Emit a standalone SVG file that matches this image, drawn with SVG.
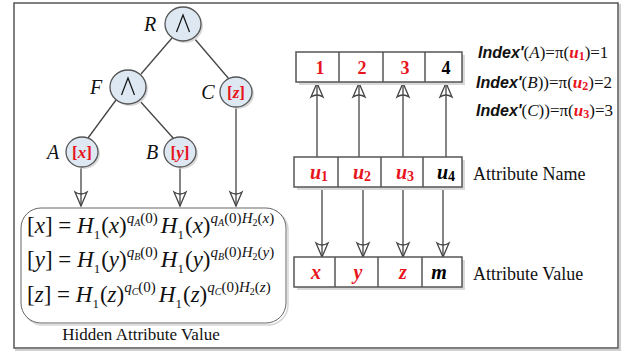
<svg xmlns="http://www.w3.org/2000/svg" width="631" height="352" viewBox="0 0 631 352">
<style>
.s{font-family:"Liberation Serif","Times New Roman",serif;}
.i{font-style:italic;}
.b{font-weight:bold;}
.red{fill:#e8141c;}
.node{fill:#dde8f2;stroke:#555;stroke-width:1.3;}
.shadow{fill:#d9d9d9;}
.cell{fill:#fff;stroke:#555;stroke-width:1.5;}
.edge{stroke:#444;stroke-width:1.3;fill:none;}
.lbl{font-family:"Liberation Serif",serif;font-style:italic;font-size:20px;fill:#111;}
.eq{font-family:"Liberation Serif",serif;font-size:23px;fill:#111;}
.sup{font-size:15px;}
.sub{font-size:10px;}
.idx{font-family:"Liberation Sans",Arial,sans-serif;font-weight:bold;font-style:italic;font-size:16px;}
.tx{font-family:"Liberation Serif",serif;fill:#111;}
</style>
<defs>
<marker id="arr" markerUnits="userSpaceOnUse" markerWidth="20" markerHeight="16" refX="14" refY="6" orient="auto" overflow="visible">
<path d="M14,6 L0,0 Q4,6 0,12 Z" fill="none" stroke="#444" stroke-width="1.3" stroke-linejoin="miter"/>
</marker>
</defs>
<!-- outer frame -->
<rect x="16" y="5" width="604" height="345" fill="none" stroke="#d0d0d0" stroke-width="2"/>
<rect x="14" y="3" width="604" height="345" fill="#fff" stroke="#555" stroke-width="1.5"/>

<g id="connectors">
<line class="edge" x1="172" y1="38" x2="141" y2="74"/>
<line class="edge" x1="194" y1="38" x2="229" y2="79"/>
<line class="edge" x1="116" y1="100" x2="88" y2="138"/>
<line class="edge" x1="139" y1="100" x2="174" y2="139"/>
<line class="edge" x1="81" y1="167" x2="81" y2="206" marker-end="url(#arr)"/>
<line class="edge" x1="180" y1="167" x2="180" y2="206" marker-end="url(#arr)"/>
<line class="edge" x1="236" y1="107" x2="236" y2="206" marker-end="url(#arr)"/>
<line class="edge" x1="317" y1="157" x2="317" y2="83" marker-end="url(#arr)"/>
<line class="edge" x1="359" y1="157" x2="359" y2="83" marker-end="url(#arr)"/>
<line class="edge" x1="403" y1="157" x2="403" y2="83" marker-end="url(#arr)"/>
<line class="edge" x1="446" y1="157" x2="446" y2="83" marker-end="url(#arr)"/>
<line class="edge" x1="322" y1="187" x2="322" y2="257" marker-end="url(#arr)"/>
<line class="edge" x1="363" y1="187" x2="363" y2="257" marker-end="url(#arr)"/>
<line class="edge" x1="403" y1="187" x2="403" y2="257" marker-end="url(#arr)"/>
<line class="edge" x1="443" y1="187" x2="443" y2="257" marker-end="url(#arr)"/>
</g>

<g id="node-R">
<ellipse class="shadow" cx="185" cy="26" rx="18" ry="17"/>
<ellipse class="node" cx="183" cy="24" rx="18" ry="17"/>
<path d="M176.5,32 L183,15 L189.5,32" fill="none" stroke="#111" stroke-width="1.2"/>
<text class="lbl" x="150" y="31" text-anchor="middle">R</text>
</g>
<g id="node-F">
<ellipse class="shadow" cx="130" cy="89" rx="18" ry="17"/>
<ellipse class="node" cx="128" cy="87" rx="18" ry="17"/>
<path d="M121.5,95 L128,78 L134.5,95" fill="none" stroke="#111" stroke-width="1.2"/>
<text class="lbl" x="96" y="94" text-anchor="middle">F</text>
</g>
<g id="node-C">
<ellipse class="shadow" cx="238" cy="94" rx="16" ry="15"/>
<ellipse class="node" cx="236" cy="92" rx="16" ry="15"/>
<text class="s b red" font-size="17" x="236" y="98" text-anchor="middle">[<tspan class="i">z</tspan>]</text>
<text class="lbl" x="208" y="99" text-anchor="middle">C</text>
</g>
<g id="node-A">
<ellipse class="shadow" cx="84" cy="154" rx="16" ry="15"/>
<ellipse class="node" cx="82" cy="152" rx="16" ry="15"/>
<text class="s b red" font-size="17" x="82" y="158" text-anchor="middle">[<tspan class="i">x</tspan>]</text>
<text class="lbl" x="53" y="159" text-anchor="middle">A</text>
</g>
<g id="node-B">
<ellipse class="shadow" cx="182" cy="154" rx="16" ry="15"/>
<ellipse class="node" cx="180" cy="152" rx="16" ry="15"/>
<text class="s b red" font-size="17" x="180" y="158" text-anchor="middle">[<tspan class="i">y</tspan>]</text>
<text class="lbl" x="152" y="159" text-anchor="middle">B</text>
</g>

<g id="hidden-values">
<rect x="23" y="210" width="265" height="115" rx="20" fill="none" stroke="#d6d6d6" stroke-width="1.5"/>
<rect x="21" y="208" width="265" height="115" rx="20" fill="#fff" stroke="#666" stroke-width="1"/>
<text class="eq" x="27" y="233">[<tspan class="i">x</tspan>] = <tspan class="i">H</tspan><tspan font-size="13" dy="6">1</tspan><tspan dy="-6" dx="1">(</tspan><tspan class="i">x</tspan>)<tspan class="sup i" dy="-10">q</tspan><tspan class="sub i" dy="3">A</tspan><tspan class="sup" dy="-3">(0)</tspan><tspan class="i" dy="10" dx="3">H</tspan><tspan font-size="13" dy="6">1</tspan><tspan dy="-6" dx="1">(</tspan><tspan class="i">x</tspan>)<tspan class="sup i" dy="-10">q</tspan><tspan class="sub i" dy="3">A</tspan><tspan class="sup" dy="-3">(0)</tspan><tspan class="sup i">H</tspan><tspan class="sub" dy="3">2</tspan><tspan class="sup" dy="-3">(</tspan><tspan class="sup i">x</tspan><tspan class="sup">)</tspan></text>
<text class="eq" x="27" y="267">[<tspan class="i">y</tspan>] = <tspan class="i">H</tspan><tspan font-size="13" dy="6">1</tspan><tspan dy="-6" dx="1">(</tspan><tspan class="i">y</tspan>)<tspan class="sup i" dy="-10">q</tspan><tspan class="sub i" dy="3">B</tspan><tspan class="sup" dy="-3">(0)</tspan><tspan class="i" dy="10" dx="3">H</tspan><tspan font-size="13" dy="6">1</tspan><tspan dy="-6" dx="1">(</tspan><tspan class="i">y</tspan>)<tspan class="sup i" dy="-10">q</tspan><tspan class="sub i" dy="3">B</tspan><tspan class="sup" dy="-3">(0)</tspan><tspan class="sup i">H</tspan><tspan class="sub" dy="3">2</tspan><tspan class="sup" dy="-3">(</tspan><tspan class="sup i">y</tspan><tspan class="sup">)</tspan></text>
<text class="eq" x="27" y="302">[<tspan class="i">z</tspan>] = <tspan class="i">H</tspan><tspan font-size="13" dy="6">1</tspan><tspan dy="-6" dx="1">(</tspan><tspan class="i">z</tspan>)<tspan class="sup i" dy="-10">q</tspan><tspan class="sub i" dy="3">C</tspan><tspan class="sup" dy="-3">(0)</tspan><tspan class="i" dy="10" dx="3">H</tspan><tspan font-size="13" dy="6">1</tspan><tspan dy="-6" dx="1">(</tspan><tspan class="i">z</tspan>)<tspan class="sup i" dy="-10">q</tspan><tspan class="sub i" dy="3">C</tspan><tspan class="sup" dy="-3">(0)</tspan><tspan class="sup i">H</tspan><tspan class="sub" dy="3">2</tspan><tspan class="sup" dy="-3">(</tspan><tspan class="sup i">z</tspan><tspan class="sup">)</tspan></text>
<text class="tx" x="141" y="340" text-anchor="middle" font-size="17">Hidden Attribute Value</text>
</g>

<g id="index-row">
<rect class="shadow" x="299" y="55" width="166" height="30"/>
<rect class="cell" x="296" y="52" width="166" height="30"/>
<line class="cell" x1="339" y1="52" x2="339" y2="82"/>
<line class="cell" x1="383" y1="52" x2="383" y2="82"/>
<line class="cell" x1="425" y1="52" x2="425" y2="82"/>
<g class="s b" font-size="18" text-anchor="middle">
<text class="red" x="320" y="74">1</text>
<text class="red" x="362" y="74">2</text>
<text class="red" x="405" y="74">3</text>
<text x="446" y="74">4</text>
</g>
</g>

<g id="name-row">
<rect class="shadow" x="297" y="160" width="168" height="30"/>
<rect class="cell" x="294" y="157" width="168" height="30"/>
<line class="cell" x1="338" y1="157" x2="338" y2="187"/>
<line class="cell" x1="381" y1="157" x2="381" y2="187"/>
<line class="cell" x1="423" y1="157" x2="423" y2="187"/>
<g class="s b" font-size="20" text-anchor="middle">
<text class="red" x="319" y="179"><tspan class="i">u</tspan><tspan font-size="14" dy="2">1</tspan></text>
<text class="red" x="362" y="179"><tspan class="i">u</tspan><tspan font-size="14" dy="2">2</tspan></text>
<text class="red" x="405" y="179"><tspan class="i">u</tspan><tspan font-size="14" dy="2">3</tspan></text>
<text x="446" y="179"><tspan class="i">u</tspan><tspan font-size="14" dy="2">4</tspan></text>
</g>
<text class="tx" x="473" y="180" font-size="18">Attribute Name</text>
</g>

<g id="value-row">
<rect class="shadow" x="297" y="260" width="168" height="30"/>
<rect class="cell" x="294" y="257" width="168" height="30"/>
<line class="cell" x1="335" y1="257" x2="335" y2="287"/>
<line class="cell" x1="378" y1="257" x2="378" y2="287"/>
<line class="cell" x1="422" y1="257" x2="422" y2="287"/>
<g class="s b i" font-size="20" text-anchor="middle">
<text class="red" x="316" y="279">x</text>
<text class="red" x="358" y="279">y</text>
<text class="red" x="403" y="279">z</text>
<text x="439" y="279">m</text>
</g>
<text class="tx" x="473" y="280" font-size="18">Attribute Value</text>
</g>

<g id="index-map" class="tx" font-size="17">
<text x="478" y="58"><tspan class="idx">Index'</tspan>(<tspan class="i">A</tspan>)=π(<tspan class="b i red">u</tspan><tspan class="b red" font-size="12" dy="2">1</tspan><tspan dy="-2">)=1</tspan></text>
<text x="476" y="88"><tspan class="idx">Index'</tspan>(<tspan class="i">B</tspan>))=π(<tspan class="b i red">u</tspan><tspan class="b red" font-size="12" dy="2">2</tspan><tspan dy="-2">)=2</tspan></text>
<text x="476" y="116"><tspan class="idx">Index'</tspan>(<tspan class="i">C</tspan>))=π(<tspan class="b i red">u</tspan><tspan class="b red" font-size="12" dy="2">3</tspan><tspan dy="-2">)=3</tspan></text>
</g>
</svg>
